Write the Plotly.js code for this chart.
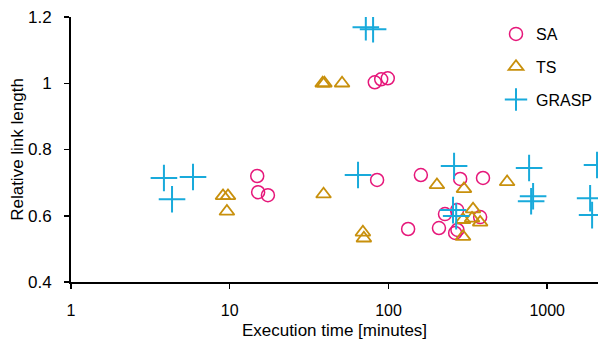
<!DOCTYPE html>
<html>
<head>
<meta charset="utf-8">
<script src="https://cdn.plot.ly/plotly-3.0.1.min.js"></script>
<style>html,body{margin:0;padding:0;background:#fff;}#chart{width:606px;height:340px;}</style>
</head>
<body>
<div id="chart"></div>
<script>
// SA (simulated annealing)
const saTime = [14.9, 15.1, 17.4, 84.8, 160, 283, 394, 133, 208, 227, 271, 378, 263, 272, 82, 90, 99];
const saLen  = [0.72, 0.671, 0.662, 0.708, 0.723, 0.711, 0.714, 0.56, 0.563, 0.605, 0.617, 0.596, 0.548, 0.557, 1.003, 1.012, 1.015];
// TS (tabu search)
const tsTime = [9.07, 9.75, 9.6, 39, 69, 70, 202, 299, 559, 295, 341, 295, 336, 378, 38.5, 39.5, 51];
const tsLen  = [0.66, 0.66, 0.613, 0.665, 0.55, 0.532, 0.693, 0.681, 0.702, 0.537, 0.62, 0.588, 0.592, 0.58, 1.0, 1.0, 1.0];
// GRASP
const grTime = [3.85, 4.33, 5.87, 64.3, 259, 255, 267, 769, 815, 792, 2060, 1864, 1918, 72, 80];
const grLen  = [0.714, 0.65, 0.717, 0.723, 0.75, 0.617, 0.599, 0.744, 0.659, 0.644, 0.753, 0.653, 0.602, 1.169, 1.163];

const xTicks = [1, 10, 100, 1000];
const xTickText = ['1', '10', '100', '1000'];

const traces = [
  {name: 'SA', legendgroup: 'a', x: saTime, y: saLen, type: 'scatter', mode: 'markers',
   marker: {symbol: 'circle-open', size: 13, color: '#E6177A', line: {width: 1.5, color: '#E6177A'}}},
  {name: 'TS', legendgroup: 'b', x: tsTime, y: tsLen, type: 'scatter', mode: 'markers',
   marker: {symbol: 'triangle-up-open', size: 13, color: '#C8900C', line: {width: 1.8, color: '#C8900C'}}},
  {name: 'GRASP', legendgroup: 'c', x: grTime, y: grLen, type: 'scatter', mode: 'markers',
   marker: {symbol: 'cross-thin-open', size: 19, color: '#19AADB', line: {width: 2, color: '#19AADB'}}}
];

const layout = {
  width: 606, height: 340,
  margin: {l: 71, r: 8, t: 17, b: 58},
  paper_bgcolor: '#fff', plot_bgcolor: '#fff',
  font: {family: 'Liberation Sans, Arial, sans-serif', color: '#000', size: 15},
  showlegend: true,
  legend: {x: 1, y: 1.0, xanchor: 'right', yanchor: 'top',
           bgcolor: 'rgba(0,0,0,0)', font: {size: 16, color: '#000'}, itemwidth: 30, tracegroupgap: 9},
  xaxis: {
    type: 'log', range: [0, 3.32],
    tickvals: xTicks, ticktext: xTickText,
    ticks: 'outside', ticklen: 5, tickwidth: 1.5, tickcolor: '#000',
    showline: true, linecolor: '#000', linewidth: 2, showgrid: false, zeroline: false,
    tickfont: {size: 16}, ticklabelstandoff: 8,
    title: {text: 'Execution time [minutes]', font: {size: 17}, standoff: 6}
  },
  yaxis: {
    range: [0.4, 1.2], dtick: 0.2, tick0: 0.4,
    ticks: 'outside', ticklen: 5, tickwidth: 1.5, tickcolor: '#000',
    showline: true, linecolor: '#000', linewidth: 2, showgrid: false, zeroline: false,
    tickfont: {size: 17}, ticklabelstandoff: 9,
    title: {text: 'Relative link length', font: {size: 17}, standoff: 0}
  }
};

Plotly.newPlot('chart', traces, layout, {displayModeBar: false, staticPlot: true});
</script>
</body>
</html>
